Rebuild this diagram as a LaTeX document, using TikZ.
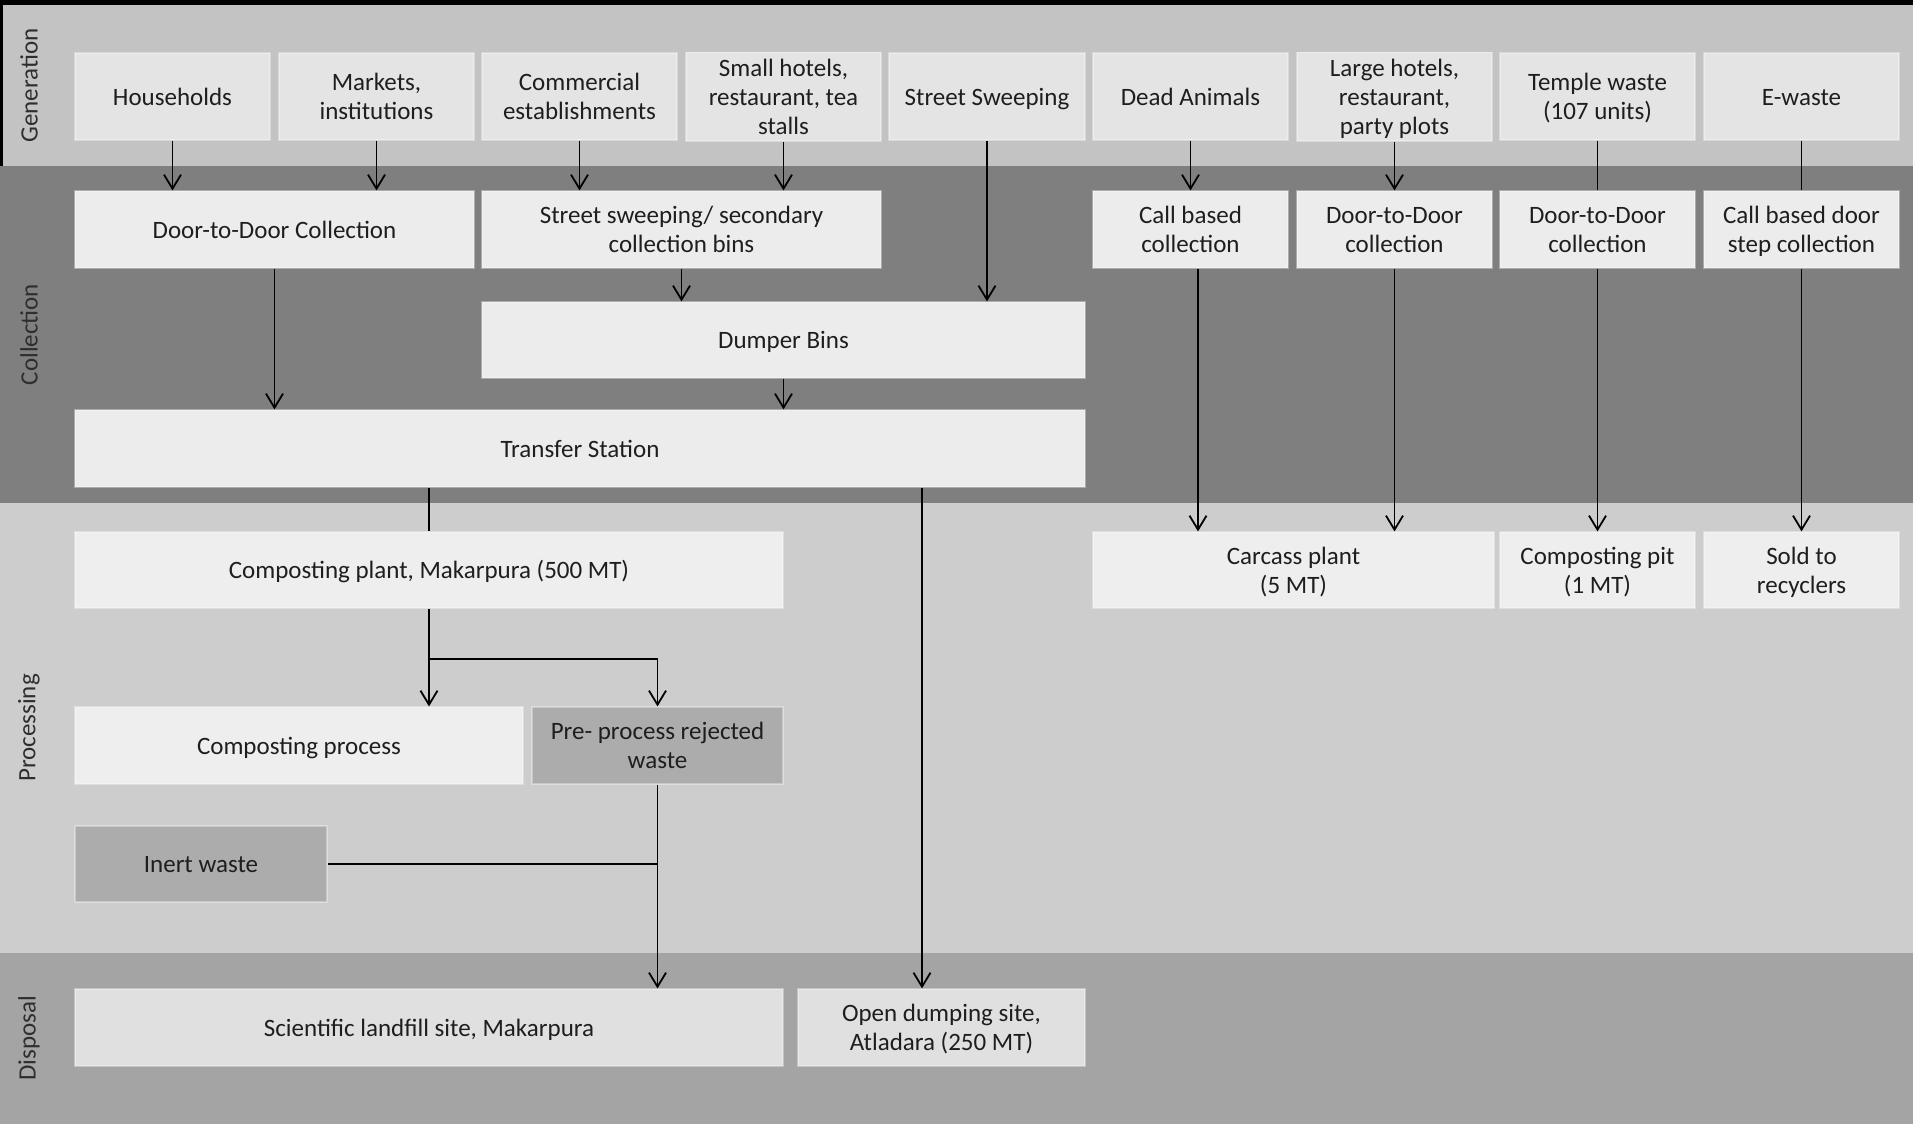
\documentclass[tikz,border=0pt]{standalone}
\usepackage{fontspec}
\setmainfont{Carlito}
\usetikzlibrary{arrows.meta,calc}
\definecolor{genband}{HTML}{C3C3C3}
\definecolor{collband}{HTML}{7F7F7F}
\definecolor{procband}{HTML}{CDCDCD}
\definecolor{dispband}{HTML}{A4A4A4}
\definecolor{genbox}{HTML}{E4E4E4}
\definecolor{collbox}{HTML}{ECECEC}
\definecolor{procbox}{HTML}{EEEEEE}
\definecolor{darkbox}{HTML}{ACACAC}
\definecolor{dispbox}{HTML}{E0E0E0}
\definecolor{txt}{HTML}{1E1E1E}
\newcommand\topstr{\rule{0pt}{12pt}}
\newcommand\botstr{\rule[-3.2pt]{0pt}{3.2pt}}
\newcommand\bx[7]{\node[boxstyle,fill=#6,minimum width={(#4-#2)*0.5pt},minimum height={(#5-#3)*0.5pt}] (#1) at ({(#2+#4)/2},{(#3+#5)/2}) {\topstr#7\botstr};}
\begin{document}
\begin{tikzpicture}[x=0.5pt,y=-0.5pt,
  boxstyle/.style={draw=white,draw opacity=0.35,line width=0.6pt,inner sep=0pt,align=center,text=txt,font=\fontsize{12.5}{14.6}\selectfont},
  bandlabel/.style={rotate=90,text=black!82,font=\fontsize{12.5}{14.6}\selectfont},
  arr/.style={line width=0.9pt,-{Straight Barb[length=7pt,width=8.5pt]}},
  ln/.style={line width=0.9pt}]
\useasboundingbox (0,0) rectangle (1913,1124);
% bands
\fill[genband] (0,0) rectangle (1913,166);
\fill[collband] (0,166) rectangle (1913,503);
\fill[procband] (0,503) rectangle (1913,953);
\fill[dispband] (0,953) rectangle (1913,1124);
\fill[black] (0,0) rectangle (1913,5);
\fill[black] (0,0) rectangle (2.5,166);
\node[bandlabel] (lgen) at (29,85.5) {Generation};
\node[bandlabel] (lcol) at (29,334.5) {Collection};
\node[bandlabel] (lpro) at (29,728) {Processing};
\node[bandlabel] (ldis) at (29,1038.5) {Disposal};
% generation
\bx{hh}{75}{53}{270}{140}{genbox}{Households}
\bx{mk}{279}{53}{474}{140}{genbox}{Markets,\\institutions}
\bx{com}{482}{53}{677}{140}{genbox}{Commercial\\establishments}
\bx{sh}{686}{53}{881}{140}{genbox}{Small hotels,\\restaurant, tea\\stalls}
\bx{ss}{889}{53}{1085}{140}{genbox}{Street Sweeping}
\bx{da}{1093}{53}{1288}{140}{genbox}{Dead Animals}
\bx{lh}{1297}{53}{1492}{140}{genbox}{Large hotels,\\restaurant,\\party plots}
\bx{tw}{1500}{53}{1695}{140}{genbox}{Temple waste\\(107 units)}
\bx{ew}{1704}{53}{1899}{140}{genbox}{E-waste}
% collection
\bx{dtd}{75}{191}{474}{268}{collbox}{Door-to-Door Collection}
\bx{ssb}{482}{191}{881}{268}{collbox}{Street sweeping/ secondary\\collection bins}
\bx{cb}{1093}{191}{1288}{268}{collbox}{Call based\\collection}
\bx{d7}{1297}{191}{1492}{268}{collbox}{Door-to-Door\\collection}
\bx{d8}{1500}{191}{1695}{268}{collbox}{Door-to-Door\\collection}
\bx{cbd}{1704}{191}{1899}{268}{collbox}{Call based door\\step collection}
\bx{dump}{482}{302}{1085}{378}{collbox}{Dumper Bins}
\bx{ts}{75}{410}{1085}{487}{collbox}{Transfer Station}
% processing
\bx{cp}{75}{532}{783}{608}{procbox}{Composting plant, Makarpura (500 MT)}
\bx{car}{1093}{532}{1494}{608}{procbox}{Carcass plant\\(5 MT)}
\bx{pit}{1500}{532}{1695}{608}{procbox}{Composting pit\\(1 MT)}
\bx{sold}{1704}{532}{1899}{608}{procbox}{Sold to\\recyclers}
\bx{cpr}{75}{707}{523}{784}{procbox}{Composting process}
\bx{pre}{532}{707}{783}{784}{darkbox}{Pre- process rejected\\waste}
\bx{inert}{75}{826}{327}{902}{darkbox}{Inert waste}
% disposal
\bx{lf}{75}{989}{783}{1066}{dispbox}{Scientific landfill site, Makarpura}
\bx{od}{798}{989}{1085}{1066}{dispbox}{Open dumping site,\\Atladara (250 MT)}
% free-end coordinates
\coordinate (tsout) at ($(ts.south)+(342,0)$);
\coordinate (cbout) at ($(cb.south)+(7.5,0)$);
\coordinate (cpbranch) at ($(cp.south)+(0,50)$);
% connectors generation -> collection
\draw[arr] (hh.south) -- (hh.south |- dtd.north);
\draw[arr] (mk.south) -- (mk.south |- dtd.north);
\draw[arr] (com.south) -- (com.south |- ssb.north);
\draw[arr] (sh.south) -- (sh.south |- ssb.north);
\draw[arr] (ss.south) -- (ss.south |- dump.north);
\draw[arr] (da.south) -- (da.south |- cb.north);
\draw[arr] (lh.south) -- (lh.south |- d7.north);
\draw[ln] (tw.south) -- (tw.south |- d8.north);
\draw[ln] (ew.south) -- (ew.south |- cbd.north);
% collection internal
\draw[arr] (ssb.south) -- (ssb.south |- dump.north);
\draw[arr] (dump.south) -- (dump.south |- ts.north);
\draw[arr] (dtd.south) -- (dtd.south |- ts.north);
% collection -> processing
\draw[ln] (cp.north |- ts.south) -- (cp.north);
\draw[arr] (tsout) -- (tsout |- od.north);
\draw[arr] (cbout) -- (cbout |- car.north);
\draw[arr] (d7.south) -- (d7.south |- car.north);
\draw[arr] (d8.south) -- (pit.north);
\draw[arr] (cbd.south) -- (sold.north);
% processing internal
\draw[arr] (cp.south) -- (cp.south |- cpr.north);
\draw[arr] (cpbranch) -| (pre.north);
\draw[arr] (pre.south) -- (pre.south |- lf.north);
\draw[ln] (inert.east) -- (inert.east -| pre.south);
\end{tikzpicture}
\end{document}
